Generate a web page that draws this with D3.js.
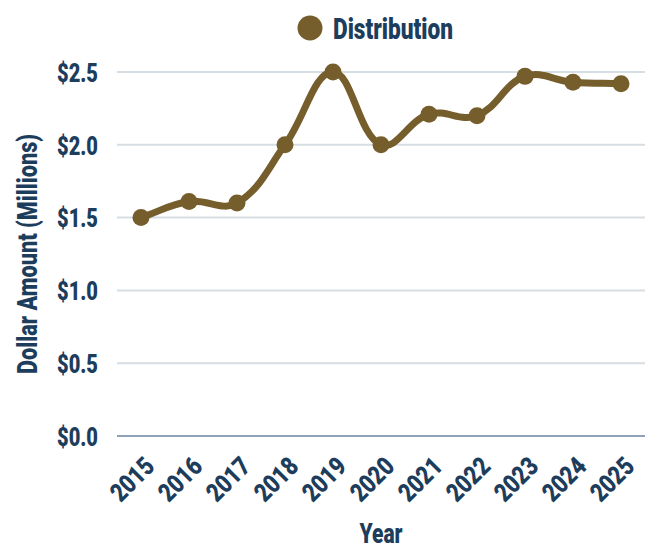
<!DOCTYPE html>
<html>
<head>
<meta charset="utf-8">
<script src="https://cdn.jsdelivr.net/npm/d3@7"></script>
<style>
  html, body { margin: 0; padding: 0; background: #ffffff; }
  svg { display: block; }
  text { font-family: Roboto, "DejaVu Sans", sans-serif; font-weight: 900; fill: #1d3d5c; }
</style>
</head>
<body>
<svg id="chart" width="653" height="550"></svg>
<script>
const years = ["2015","2016","2017","2018","2019","2020","2021","2022","2023","2024","2025"];
const distribution = [1.5, 1.61, 1.6, 2.0, 2.5, 2.0, 2.21, 2.2, 2.47, 2.43, 2.42];
const yTicks = [0, 0.5, 1.0, 1.5, 2.0, 2.5];
const seriesName = "Distribution";
const xTitle = "Year";
const yTitle = "Dollar Amount (Millions)";

const W = 653, H = 550;
const area = { left: 117, right: 645, top: 72, bottom: 436 };
const lineColor = "#765e2c";
const textColor = "#1d3d5c";

const svg = d3.select("#chart");

// horizontal condensing factor so that a sample text reaches a target width
function condense(sampleNode, targetWidth) {
  const w = sampleNode.getComputedTextLength();
  return w > 0 ? targetWidth / w : 1;
}

const x = d3.scaleBand().domain(years).range([area.left, area.right]).padding(0);
const y = d3.scaleLinear().domain([0, 2.5]).range([area.bottom, area.top]);

// Gridlines
svg.append("g").selectAll("line").data(yTicks).join("line")
  .attr("x1", area.left).attr("x2", area.right)
  .attr("y1", d => y(d)).attr("y2", d => y(d))
  .attr("stroke", d => d === 0 ? "#8ea3b8" : "#d6dde3")
  .attr("stroke-width", 2);

// Y axis labels
const yAxis = d3.axisLeft(y).tickValues(yTicks).tickSize(0).tickPadding(0)
  .tickFormat(d => "$" + d3.format(".1f")(d));
const gy = svg.append("g").attr("transform", `translate(${area.left - 19},0)`).call(yAxis);
gy.select(".domain").remove();
const yText = gy.selectAll("text")
  .attr("font-family", null).attr("font-size", null)
  .style("font-size", "26px").style("fill", textColor)
  .attr("dy", "0.36em");
const sy = condense(yText.nodes()[yText.size()-1], 41);
yText.attr("transform", `scale(${sy},1)`);

// X axis labels (rotated)
const xAxis = d3.axisBottom(x).tickSize(0).tickPadding(0);
const gx = svg.append("g").call(xAxis);
gx.select(".domain").remove();
gx.selectAll(".tick").attr("transform", d => `translate(${x(d) + x.bandwidth()/2},0)`);
const xText = gx.selectAll("text")
  .attr("font-family", null).attr("font-size", null)
  .style("font-size", "26px").style("fill", textColor)
  .attr("y", null).attr("dy", null)
  .attr("text-anchor", "end");
const sx = condense(xText.node(), 50);
xText.attr("transform", `translate(15,468) rotate(-45) scale(${sx},1)`);

// Chart.js-like spline curve (tension 0.4)
function chartSpline(context) { return new ChartSpline(context, 0.4); }
function ChartSpline(context, t) { this._context = context; this._t = t; }
ChartSpline.prototype = {
  areaStart() { this._line = 0; }, areaEnd() { this._line = NaN; },
  lineStart() { this._pts = []; },
  point(px, py) { this._pts.push([+px, +py]); },
  lineEnd() {
    const p = this._pts, n = p.length, t = this._t, c = this._context;
    if (!n) return;
    const ctrl = p.map((mid, i) => {
      const first = i > 0 ? p[i-1] : mid;
      const after = i < n-1 ? p[i+1] : mid;
      const d01 = Math.hypot(mid[0]-first[0], mid[1]-first[1]);
      const d12 = Math.hypot(after[0]-mid[0], after[1]-mid[1]);
      let s01 = d01/(d01+d12), s12 = d12/(d01+d12);
      if (isNaN(s01)) s01 = 0; if (isNaN(s12)) s12 = 0;
      const fa = t*s01, fb = t*s12;
      return {
        prev: [mid[0] - fa*(after[0]-first[0]), mid[1] - fa*(after[1]-first[1])],
        next: [mid[0] + fb*(after[0]-first[0]), mid[1] + fb*(after[1]-first[1])]
      };
    });
    c.moveTo(p[0][0], p[0][1]);
    for (let i = 1; i < n; i++) {
      const a = ctrl[i-1].next, b = ctrl[i].prev;
      c.bezierCurveTo(a[0], a[1], b[0], b[1], p[i][0], p[i][1]);
    }
  }
};

const data = years.map((yr, i) => ({ year: yr, value: distribution[i] }));
const cx = d => x(d.year) + x.bandwidth()/2;

const line = d3.line().x(cx).y(d => y(d.value)).curve(chartSpline);
svg.append("path").datum(data)
  .attr("d", line)
  .attr("fill", "none")
  .attr("stroke", lineColor)
  .attr("stroke-width", 7)
  .attr("stroke-linejoin", "round");

svg.append("g").selectAll("circle").data(data).join("circle")
  .attr("cx", cx).attr("cy", d => y(d.value))
  .attr("r", 8.5).attr("fill", lineColor);

// Legend
const legend = svg.append("g");
legend.append("circle").attr("cx", 310).attr("cy", 28).attr("r", 12.5).attr("fill", lineColor);
const legText = legend.append("text")
  .style("font-size", "29px")
  .text(seriesName);
const sl = condense(legText.node(), 120);
legText.attr("transform", `translate(333,39) scale(${sl},1)`);

// Axis titles
const xt = svg.append("text")
  .attr("text-anchor", "middle")
  .style("font-size", "28px")
  .text(xTitle);
const sxt = condense(xt.node(), 43);
xt.attr("transform", `translate(${(area.left + area.right)/2},543) scale(${sxt},1)`);

const yt = svg.append("text")
  .attr("text-anchor", "middle")
  .style("font-size", "27px")
  .text(yTitle);
const syt = condense(yt.node(), 240);
yt.attr("transform", `translate(37,${(area.top + area.bottom)/2}) rotate(-90) scale(${syt},1)`);
</script>
</body>
</html>
